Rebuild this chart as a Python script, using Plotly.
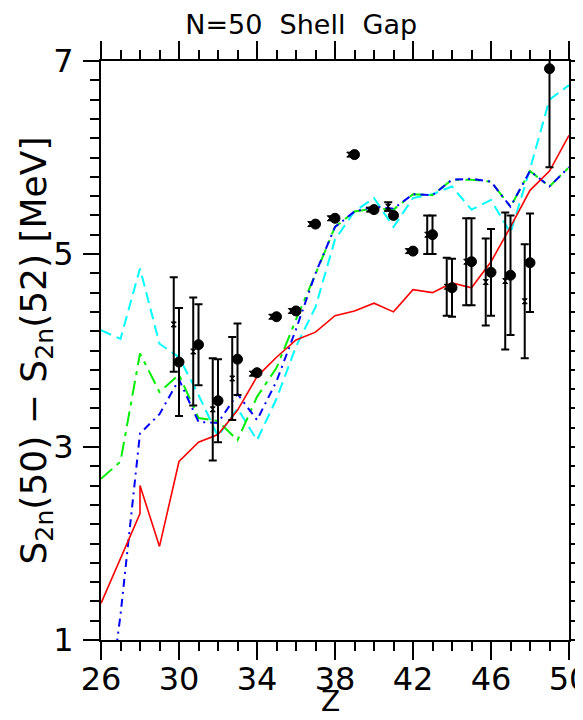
import plotly.graph_objects as go

# ---- data ----
z_model = list(range(26, 51))

red_z = [26, 27, 28, 28] + list(range(29, 51))
red_v = [1.38, 1.85, 2.31, 2.60, 1.97, 2.85, 3.05, 3.13, 3.38, 3.73, 3.93, 4.11, 4.19,
         4.36, 4.41, 4.49, 4.40, 4.63, 4.60, 4.70, 4.65, 4.92, 5.28, 5.66, 5.86, 6.23]

green_v = [2.67, 2.85, 3.97, 3.57, 3.75, 3.30, 3.27, 3.07, 3.52, 3.82, 4.32, 4.79, 5.28,
           5.44, 5.47, 5.46, 5.62, 5.61, 5.77, 5.77, 5.75, 5.49, 5.86, 5.70, 5.90]

blue_v = [-0.30, 1.26, 3.14, 3.34, 3.70, 3.26, 3.25, 3.55, 3.28, 3.68, 4.22, 4.80, 5.28,
          5.44, 5.49, 5.47, 5.62, 5.61, 5.77, 5.78, 5.75, 5.49, 5.86, 5.70, 5.90]

cyan_v = [4.21, 4.12, 4.85, 4.07, 3.93, 3.54, 3.11, 3.40, 3.07, 3.50, 4.04, 4.45, 5.15,
          5.44, 5.58, 5.28, 5.58, 5.62, 5.70, 5.46, 5.56, 5.22, 5.88, 6.60, 6.75]

exp_z = list(range(30, 50))
exp_v = [3.88, 4.06, 3.48, 3.91, 3.77, 4.35, 4.41, 5.31, 5.37, 6.03, 5.46, 5.40, 5.03,
         5.20, 4.65, 4.92, 4.81, 4.78, 4.91, 6.92]
exp_err = [0.56, 0.42, 0.43, 0.37, None, None, None, None, None, None, None, None, None,
           0.20, 0.30, 0.45, 0.45, 0.62, 0.51, 1.02]

alt_z = list(range(30, 49))
alt_shift = 0.27
alt_v = [4.27, 3.99, 3.39, 3.71, 3.76, 4.35, 4.41, 5.31, 5.37, 6.03, 5.46, 5.49, 5.03,
         5.20, 4.66, 4.92, 4.71, 4.72, 4.51]
alt_err = [0.49, 0.56, 0.53, 0.43, None, None, None, None, None, None, None, 0.045, None,
           0.20, 0.30, 0.45, 0.45, 0.71, 0.59]

FONT = "DejaVu Sans"

fig = go.Figure()

fig.add_trace(go.Scatter(x=z_model, y=cyan_v, mode="lines",
                         line=dict(color="#00ffff", width=2, dash="11px,6px")))
fig.add_trace(go.Scatter(x=z_model, y=green_v, mode="lines",
                         line=dict(color="#00ee00", width=2, dash="15px,6px,4px,6px")))
fig.add_trace(go.Scatter(x=z_model, y=blue_v, mode="lines",
                         line=dict(color="#0000ff", width=2, dash="8px,5px,2px,5px")))
fig.add_trace(go.Scatter(x=red_z, y=red_v, mode="lines",
                         line=dict(color="#ff0000", width=1.6)))


def add_points(zs, vs, errs, shift, symbol, size):
    xs = [z - shift for z in zs]
    with_e = [i for i, e in enumerate(errs) if e is not None]
    without_e = [i for i, e in enumerate(errs) if e is None]
    fig.add_trace(go.Scatter(
        x=[xs[i] for i in with_e], y=[vs[i] for i in with_e], mode="markers",
        marker=dict(color="black", size=size, symbol=symbol,
                    line=dict(color="black", width=1)),
        error_y=dict(type="data", array=[errs[i] for i in with_e],
                     color="black", thickness=2, width=4)))
    fig.add_trace(go.Scatter(
        x=[xs[i] for i in without_e], y=[vs[i] for i in without_e], mode="markers",
        marker=dict(color="black", size=size, symbol=symbol,
                    line=dict(color="black", width=1))))


add_points(alt_z, alt_v, alt_err, alt_shift, "hourglass", 5)
add_points(exp_z, exp_v, exp_err, 0.0, "circle", 10)

fig.update_layout(
    width=575, height=712,
    margin=dict(l=93, r=14, t=53, b=80, autoexpand=False),
    paper_bgcolor="white", plot_bgcolor="white",
    showlegend=False,
    font=dict(family=FONT, color="black"),
    title=dict(text="N=50  Shell  Gap", x=0.51, xref="container", xanchor="center",
               y=0.9765, yref="container", yanchor="middle",
               font=dict(family=FONT, size=27, color="black")),
    annotations=[
        dict(text="Z", xref="paper", x=0.49, yref="paper", y=0,
             xanchor="center", yanchor="bottom", yshift=-80, showarrow=False,
             font=dict(family=FONT, size=28, color="black")),
        dict(text="S<sub>2n</sub>(50) − S<sub>2n</sub>(52) [MeV]", textangle=-90,
             xref="paper", x=0, xanchor="center", xshift=-65,
             yref="paper", y=0.5, yanchor="middle", showarrow=False,
             font=dict(family=FONT, size=36, color="black")),
    ],
)

fig.update_xaxes(
    range=[26, 50], tick0=26, dtick=4, ticks="outside", ticklen=18, tickwidth=2,
    tickcolor="black", showline=True, linecolor="black", linewidth=2, mirror="ticks",
    showgrid=False, zeroline=False, automargin=False, ticklabeloverflow="allow",
    ticklabelstandoff=-8,
    tickfont=dict(family=FONT, size=32, color="black"),
    minor=dict(dtick=1, ticks="outside", ticklen=9, tickwidth=2, tickcolor="black",
               showgrid=False),
)
fig.update_yaxes(
    range=[1, 7], tick0=1, dtick=2, ticks="outside", ticklen=16, tickwidth=2,
    tickcolor="black", showline=True, linecolor="black", linewidth=2, mirror="ticks",
    showgrid=False, zeroline=False, ticklabelstandoff=3, automargin=False,
    ticklabeloverflow="allow",
    tickfont=dict(family=FONT, size=32, color="black"),
    minor=dict(dtick=0.2, ticks="outside", ticklen=9, tickwidth=2, tickcolor="black",
               showgrid=False),
)

fig.write_html("out.html")
